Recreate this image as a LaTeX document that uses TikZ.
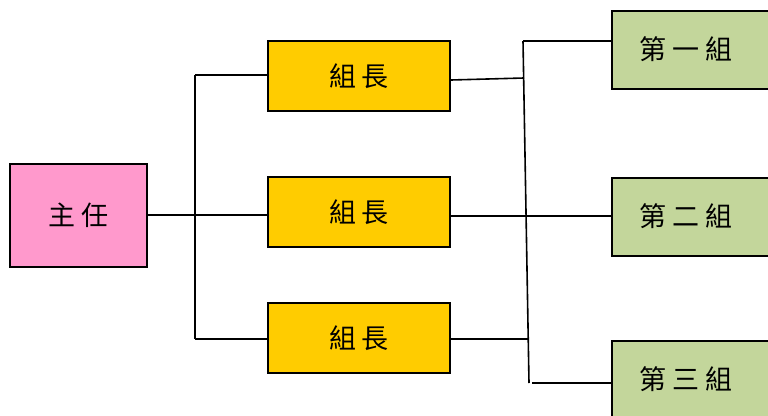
\documentclass[tikz,border=0pt]{standalone}
\usepackage{fontspec}
\newfontfamily\cjk{Noto Sans CJK TC}
\definecolor{pinkbox}{HTML}{FF99CC}
\definecolor{yelbox}{HTML}{FFCC00}
\definecolor{grnbox}{HTML}{C3D69B}
\newcommand{\cs}{\hspace{6pt}}
\begin{document}
\begin{tikzpicture}[x=1pt,y=-1pt,
  box/.style={draw=black, line width=1.8pt, inner sep=0pt, font=\cjk\fontsize{27}{30}\selectfont},
  chief/.style={box, fill=pinkbox, minimum width=137pt, minimum height=103pt},
  leader/.style={box, fill=yelbox, minimum width=182pt, minimum height=70pt},
  group/.style={box, fill=grnbox, minimum width=200pt, minimum height=78pt, anchor=north west},
  conn/.style={line width=1.6pt}]
\useasboundingbox (0,0) rectangle (768,415);
\clip (0,0) rectangle (768,415);
\fill[white] (0,0) rectangle (768,415);
\node[chief] (c) at (78.5,215.5) {\raisebox{3pt}{主\cs 任}};
\node[leader] (l1) at (359,76) {\raisebox{1pt}{組\cs 長}};
\node[leader] (l2) at (359,212) {\raisebox{1pt}{組\cs 長}};
\node[leader] (l3) at (359,338) {\raisebox{1pt}{組\cs 長}};
\node[group] (g1) at (611,10) {\raisebox{4pt}{第\cs 一\cs 組}\hspace*{52pt}};
\node[group] (g2) at (611,177) {\raisebox{4pt}{第\cs 二\cs 組}\hspace*{52pt}};
\node[group] (g3) at (611,340) {\raisebox{4pt}{第\cs 三\cs 組}\hspace*{52pt}};
% left junctions
\coordinate (a1) at (195,75);
\coordinate (a2) at (195,215);
\coordinate (a3) at (195,339);
\draw[conn] (c.east |- a2) -- (a2);
\draw[conn] (a1) -- (a3);
\draw[conn] (a1) -- (l1.west |- a1);
\draw[conn] (a2) -- (l2.west |- a2);
\draw[conn] (a3) -- (l3.west |- a3);
% right junctions
\coordinate (b0) at (523,41);
\coordinate (b1) at (524,78);
\coordinate (b2) at (526,216);
\coordinate (b3) at (528,339);
\coordinate (b4) at (529,383);
\coordinate (b5) at (532,383);
\draw[conn] (b0) -- (b4);
\draw[conn] (b0) -- (g1.west |- b0);
\draw[conn] (l1.east |- 0,80) -- (b1);
\draw[conn] (l2.east |- b2) -- (g2.west |- b2);
\draw[conn] (l3.east |- b3) -- (b3);
\draw[conn] (b5) -- (g3.west |- b5);
\end{tikzpicture}
\end{document}
